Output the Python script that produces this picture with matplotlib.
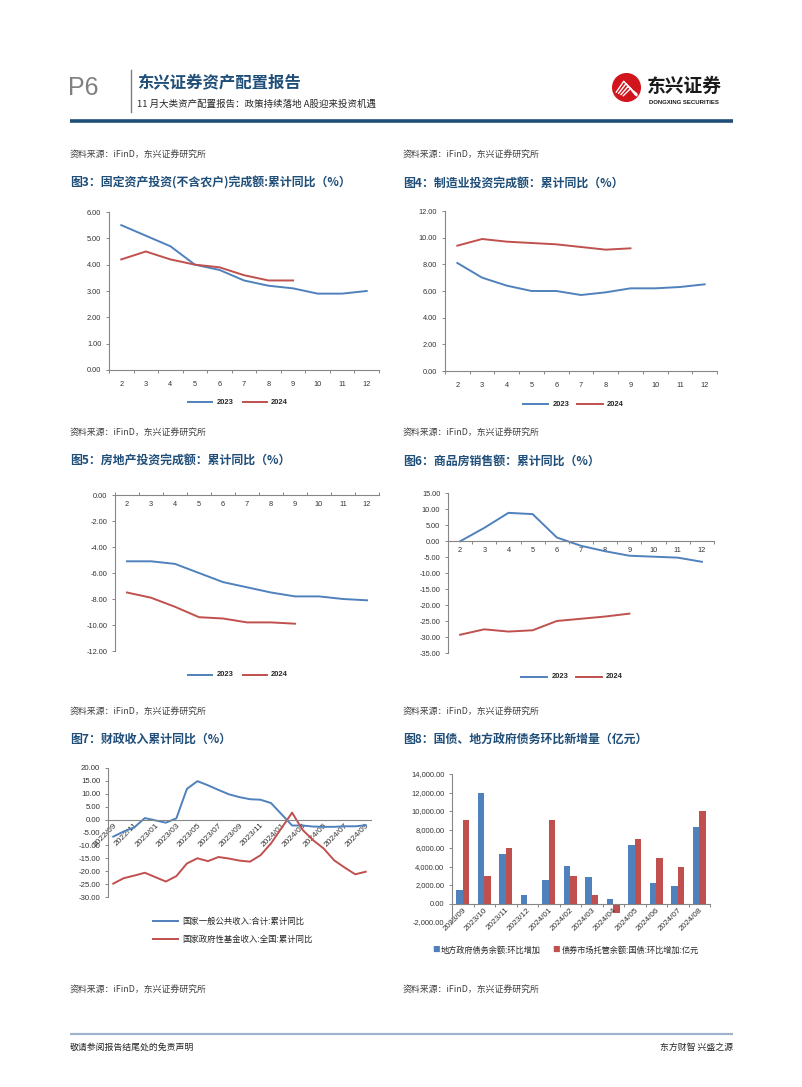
import numpy as np
import matplotlib
matplotlib.use('Agg')
import matplotlib.pyplot as plt
from matplotlib.lines import Line2D
from matplotlib.patches import Circle

plt.rcParams['font.family'] = ['Noto Sans CJK SC', 'DejaVu Sans']
plt.rcParams['axes.unicode_minus'] = False

W, H = 802, 1087
BLUE = '#4F81BD'
RED = '#C0504D'
AXC = '#868686'
NAVY = '#1F4E79'
TITLEC = '#1F4E79'
NUM = ['Liberation Sans', 'Noto Sans CJK SC']

# ---- data ----
months = [2, 3, 4, 5, 6, 7, 8, 9, 10, 11, 12]
fai_2023 = [5.5, 5.1, 4.7, 4.0, 3.8, 3.4, 3.2, 3.1, 2.9, 2.9, 3.0]
fai_2024 = [4.2, 4.5, 4.2, 4.0, 3.9, 3.6, 3.4, 3.4]
mfg_2023 = [8.1, 7.0, 6.4, 6.0, 6.0, 5.7, 5.9, 6.2, 6.2, 6.3, 6.5]
mfg_2024 = [9.4, 9.9, 9.7, 9.6, 9.5, 9.3, 9.1, 9.2]
re_2023 = [-5.1, -5.1, -5.3, -6.0, -6.7, -7.1, -7.5, -7.8, -7.8, -8.0, -8.1]
re_2024 = [-7.5, -7.9, -8.6, -9.4, -9.5, -9.8, -9.8, -9.9]
sales_2023 = [-0.1, 4.1, 8.8, 8.4, 1.1, -1.5, -3.2, -4.6, -4.9, -5.2, -6.5]
sales_2024 = [-29.3, -27.6, -28.3, -27.9, -25.0, -24.3, -23.6, -22.7]

fiscal_months = ['2022/09', '2022/10', '2022/11', '2022/12', '2023/01', '2023/02', '2023/03',
                 '2023/04', '2023/05', '2023/06', '2023/07', '2023/08', '2023/09', '2023/10',
                 '2023/11', '2023/12', '2024/01', '2024/02', '2024/03', '2024/04', '2024/05',
                 '2024/06', '2024/07', '2024/08', '2024/09']
nan = np.nan
rev_general = [-6.6, -4.6, -3.0, 0.6, nan, -1.2, 0.5, 11.9, 14.9, 13.3, 11.5, 9.8, 8.7,
               7.9, 7.7, 6.4, nan, -2.3, -2.3, -2.7, -2.8, -2.8, -2.6, -2.6, -2.2]
rev_fund = [-24.8, -22.7, -21.7, -20.6, nan, -24.0, -21.9, -17.0, -15.0, -16.1, -14.5, -15.1,
            -15.9, -16.3, -13.8, -9.2, nan, 2.7, -4.0, -8.0, -11.2, -15.8, -18.6, -21.2, -20.2]

debt_months = ['2023/09', '2023/10', '2023/11', '2023/12', '2024/01', '2024/02', '2024/03',
               '2024/04', '2024/05', '2024/06', '2024/07', '2024/08']
local_debt = [1450, 12000, 5300, 950, 2550, 4100, 2850, 500, 6300, 2200, 1900, 8300]
treasury = [9000, 3000, 5950, nan, 9000, 3000, 950, -1000, 6950, 4970, 4000, 10000]

fig = plt.figure(figsize=(W / 100, H / 100), dpi=100)


def box(x0, y0, x1, y1):
    return fig.add_axes([x0 / W, 1 - y1 / H, (x1 - x0) / W, (y1 - y0) / H])


def ftext(x, y, s, **kw):
    fig.text(x / W, 1 - y / H, s, **kw)


def fline(x0, x1, y0, y1, **kw):
    fig.add_artist(Line2D([x0 / W, x1 / W], [1 - y0 / H, 1 - y1 / H],
                          transform=fig.transFigure, **kw))


def style_axes(ax, ylim, step, fmt='{:.2f}', fs=5.3):
    ax.set_ylim(*ylim)
    ax.set_yticks(np.arange(ylim[0], ylim[1] + step / 2, step))
    ax.set_yticklabels([fmt.format(v) for v in ax.get_yticks()], family=NUM, fontsize=fs,
                       color='#333333')
    for s in ['top', 'right']:
        ax.spines[s].set_visible(False)
    for s in ['left', 'bottom']:
        ax.spines[s].set_color(AXC)
        ax.spines[s].set_linewidth(0.8)
    ax.spines['bottom'].set_position(('data', 0))
    ax.tick_params(axis='y', length=2.5, width=0.7, color=AXC, pad=3)
    ax.patch.set_alpha(0)


def legend_pair(y, xb, xr, labels=('2023', '2024')):
    fline(xb[0], xb[1], y, y, color=BLUE, lw=1.4)
    ftext(xb[1] + 5, y, labels[0], family=NUM, fontsize=5.4, weight='bold', va='center',
          color='#262626')
    fline(xr[0], xr[1], y, y, color=RED, lw=1.4)
    ftext(xr[1] + 4, y, labels[1], family=NUM, fontsize=5.4, weight='bold', va='center',
          color='#262626')


def month_chart(rect, d23, d24, ylim, step, tickdir='out', pad=7.0):
    ax = box(*rect)
    x = np.arange(len(months))
    ax.plot(x, d23, color=BLUE, lw=1.4)
    ax.plot(x[:len(d24)], d24, color=RED, lw=1.4)
    ax.set_xlim(-0.5, len(months) - 0.5)
    style_axes(ax, ylim, step)
    ax.set_xticks(x)
    ax.set_xticklabels([str(m) for m in months], family=NUM, fontsize=5.3, color='#333333')
    ax.set_xticks(np.arange(-0.5, len(months)), minor=True)
    ax.tick_params(axis='x', which='major', length=0, pad=pad)
    ax.tick_params(axis='x', which='minor', length=2.5, width=0.7, color=AXC,
                   direction=tickdir)
    return ax


# ---- header ----
ftext(68, 88, 'P6', fontsize=18, color='#808080', va='center', family=NUM)
fline(131, 131, 70, 112, color='#7F7F7F', lw=1.0)
ftext(137, 83, '东兴证券资产配置报告', fontsize=11.8, weight='bold', color=NAVY, va='center')
ftext(137, 104, '11 月大类资产配置报告：政策持续落地 A股迎来投资机遇', fontsize=6.8,
      color='#262626', va='center')
fline(70, 733, 121, 121, color='#1F4E79', lw=2.6, solid_capstyle='butt')

# logo
lax = box(612, 73, 641, 102)
lax.set_xlim(-1.05, 1.05)
lax.set_ylim(-1.05, 1.05)
lax.set_aspect('equal')
lax.axis('off')
lax.add_patch(Circle((0, 0), 1.0, color='#D2141C'))
for k in range(4):
    o = k * 0.17
    lax.plot([-0.75 + o, -0.2 + o, 0.35 + o * 0.6, 0.75],
             [-0.35 - o * 0.5, 0.45 - o, -0.15 - o * 0.8, -0.45 - o * 0.3],
             color='white', lw=1.0, solid_capstyle='round')
ftext(647, 86, '东兴证券', fontsize=13.5, weight='bold', color='#1A1A1A', va='center')
ftext(649, 102, 'DONGXING SECURITIES', fontsize=4.3, weight='bold', color='#1A1A1A',
      va='center', family=NUM)

# ---- section texts ----
SRC = '资料来源：iFinD，东兴证券研究所'
for y in [155, 433, 712, 990]:
    ftext(70, y, SRC, fontsize=6.4, color='#404040', va='center', style='italic')
    ftext(403, y, SRC, fontsize=6.4, color='#404040', va='center', style='italic')

tkw = dict(fontsize=8.6, weight='bold', color=TITLEC, va='center')
ftext(70, 183, '图3：固定资产投资(不含农户)完成额:累计同比（%）', **tkw)
ftext(403, 183, '图4：制造业投资完成额：累计同比（%）', **tkw)
ftext(70, 461, '图5：房地产投资完成额：累计同比（%）', **tkw)
ftext(403, 461, '图6：商品房销售额：累计同比（%）', **tkw)
ftext(70, 739, '图7：财政收入累计同比（%）', **tkw)
ftext(403, 739, '图8：国债、地方政府债务环比新增量（亿元）', **tkw)

# ---- chart 3 ----
month_chart((109, 212, 379, 370), fai_2023, fai_2024, (0, 6), 1, pad=8)
legend_pair(402, (188, 212), (243, 267))

# ---- chart 4 ----
month_chart((445, 211, 717, 371), mfg_2023, mfg_2024, (0, 12), 2, pad=8)
legend_pair(404, (523, 548), (577, 603))

# ---- chart 5 ----
month_chart((115, 495, 379, 651), re_2023, re_2024, (-12, 0), 2, tickdir='in', pad=4)
legend_pair(675, (188, 212), (243, 267))

# ---- chart 6 ----
month_chart((448, 493, 714, 653), sales_2023, sales_2024, (-35, 15), 5, pad=4)
legend_pair(677, (521, 547), (576, 602))

# ---- chart 7 ----
ax7 = box(108, 768, 371, 897)
xi = np.arange(len(fiscal_months))
g = np.array(rev_general)
f = np.array(rev_fund)
ax7.plot(xi[~np.isnan(g)], g[~np.isnan(g)], color=BLUE, lw=1.4)
ax7.plot(xi[~np.isnan(f)], f[~np.isnan(f)], color=RED, lw=1.4)
ax7.set_xlim(-0.5, len(fiscal_months) - 0.5)
style_axes(ax7, (-30, 20), 5, fs=5.6)
ax7.set_xticks(xi[::2])
ax7.set_xticklabels(fiscal_months[::2], rotation=45, ha='right', rotation_mode='anchor',
                    family=NUM, fontsize=6.0, color='#333333')
ax7.tick_params(axis='x', length=0, pad=1.5)
fline(153, 178, 921, 921, color=BLUE, lw=1.4)
ftext(182, 921, '国家一般公共收入:合计:累计同比', fontsize=6.0, va='center', color='#262626')
fline(153, 178, 939, 939, color=RED, lw=1.4)
ftext(182, 939, '国家政府性基金收入:全国:累计同比', fontsize=6.0, va='center', color='#262626')

# ---- chart 8 ----
ax8 = box(452, 774, 710, 922)
xb = np.arange(len(debt_months))
ax8.bar(xb - 0.15, local_debt, width=0.3, color=BLUE)
ax8.bar(xb + 0.15, np.nan_to_num(treasury), width=0.3, color=RED)
ax8.set_xlim(-0.5, len(debt_months) - 0.5)
style_axes(ax8, (-2000, 14000), 2000, fmt='{:,.2f}', fs=5.4)
ax8.set_xticks(xb)
ax8.set_xticklabels(debt_months, rotation=45, ha='right', rotation_mode='anchor',
                    family=NUM, fontsize=5.9, color='#333333')
ax8.set_xticks(np.arange(-0.5, len(debt_months)), minor=True)
ax8.tick_params(axis='x', which='major', length=0, pad=2)
ax8.tick_params(axis='x', which='minor', length=2.5, width=0.7, color=AXC)
ftext(436, 950, '■', fontsize=5.5, color=BLUE, va='center', ha='center')
ftext(441, 950, '地方政府债务余额:环比增加', fontsize=5.9, va='center', color='#262626')
ftext(556, 950, '■', fontsize=5.5, color=RED, va='center', ha='center')
ftext(562, 950, '债券市场托管余额:国债:环比增加:亿元', fontsize=5.9, va='center',
      color='#262626')

# ---- footer ----
fline(70, 733, 1034, 1034, color='#9FB4CC', lw=1.6, solid_capstyle='butt')
ftext(70, 1047, '敬请参阅报告结尾处的免责声明', fontsize=6.4, color='#262626', va='center')
ftext(733, 1047, '东方财智 兴盛之源', fontsize=6.4, color='#262626', va='center', ha='right')

fig.savefig('out.png', dpi=100)
